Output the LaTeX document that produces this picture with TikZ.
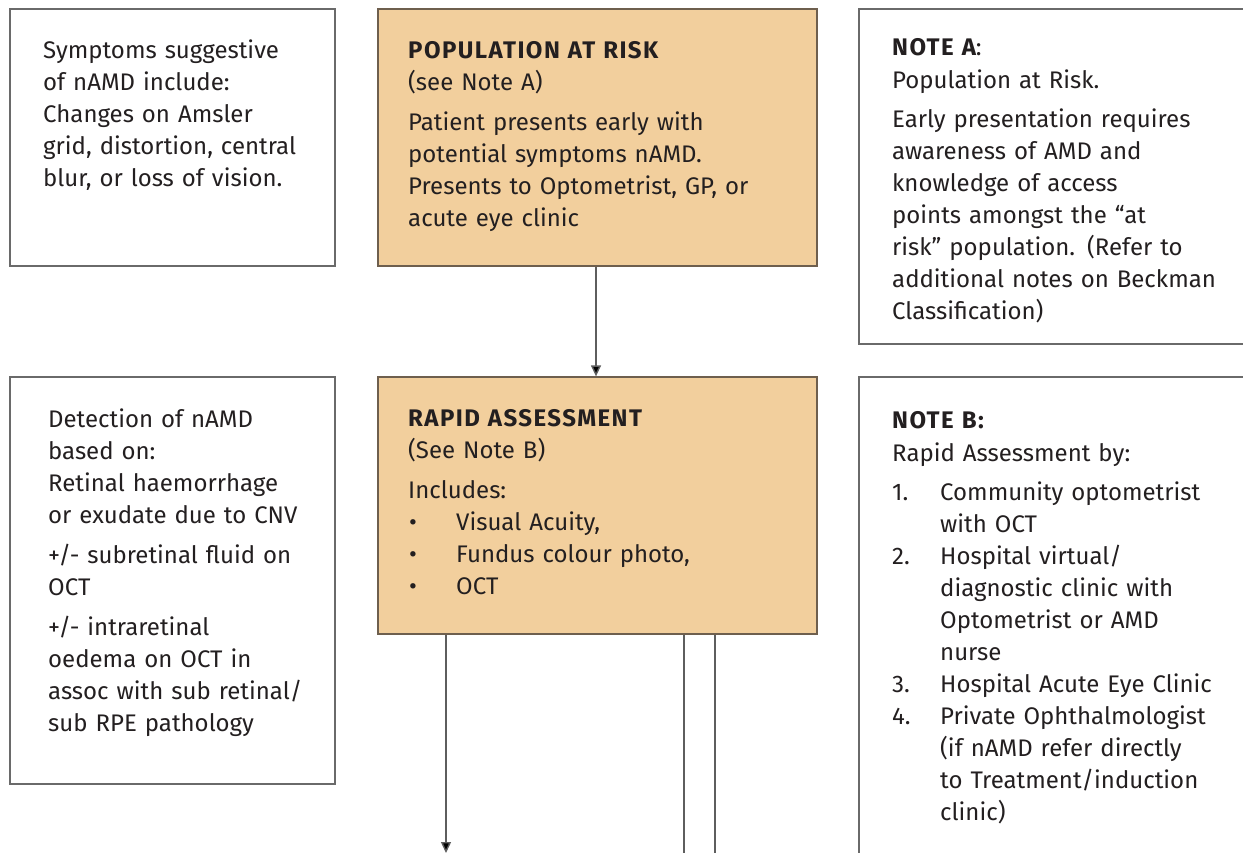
\documentclass[tikz,border=0pt]{standalone}
\usepackage{fontspec}
\setmainfont{Fira Sans}
\usetikzlibrary{arrows.meta}
\definecolor{boxfill}{HTML}{F2CF9D}
\definecolor{boxedge}{HTML}{6E5F4E}
\definecolor{grayedge}{HTML}{6A6A6A}
\definecolor{linegray}{HTML}{5E5E5E}
\definecolor{txt}{HTML}{231F20}
\tikzset{
  orangebox/.style={draw=boxedge, fill=boxfill, line width=1.3pt, rectangle, inner sep=0pt},
  whitebox/.style={draw=grayedge, fill=white, line width=1.2pt, rectangle, inner sep=0pt},
  txtblock/.style={anchor=base west, inner sep=0pt, text width=360pt, align=left, text=txt,
    font=\fontsize{24pt}{32pt}\selectfont},
  conn/.style={draw=linegray, line width=1.4pt},
  arr/.style={conn, -{Triangle[length=11pt, width=10pt, fill=black]}}
}
\newcommand{\itm}[1]{\makebox[48pt][l]{#1}}
\newcommand{\ind}{\hspace*{48pt}}
\newcommand{\bul}{\itm{\hspace*{1pt}•}}
\newcommand{\hd}[1]{{\bfseries\addfontfeature{LetterSpace=6}#1}}
\begin{document}
\begin{tikzpicture}[x=1pt, y=-1pt]
\clip (0,0) rectangle (1243,853);
\fill[white] (0,0) rectangle (1243,853);

% boxes
\node[whitebox, minimum width=325pt, minimum height=257pt] (symp) at (172.5,137.5) {};
\node[orangebox, minimum width=439pt, minimum height=257pt] (pop) at (597.5,137.5) {};
\node[whitebox, minimum width=400pt, minimum height=335pt] (notea) at (1059,176.5) {};
\node[whitebox, minimum width=325pt, minimum height=407pt] (detect) at (172.5,580.5) {};
\node[orangebox, minimum width=439pt, minimum height=257pt] (rapid) at (597.5,505.5) {};
\node[whitebox, minimum width=400pt, minimum height=500pt] (noteb) at (1059,627) {};

% texts
\node[txtblock] (sympt) at (43,58.5) {Symptoms suggestive\\of nAMD include:\\Changes on Amsler\\grid, distortion, central\\blur, or loss of vision.};

\node[txtblock] (popt) at (408,58.5) {\hd{POPULATION AT RISK}\\(see Note A)\\[8pt]Patient presents early with\\potential symptoms nAMD.\\Presents to Optometrist, GP, or\\acute eye clinic};

\node[txtblock] (noteat) at (892,55.5) {\hd{NOTE A}:\\[1pt]Population at Risk.\\[7pt]Early presentation requires\\awareness of AMD and\\knowledge of access\\points amongst the “at\\risk” population. (Refer to\\additional notes on Beckman\\Classification)};

\node[txtblock] (detectt) at (48,427.5) {Detection of nAMD\\based on:\\Retinal haemorrhage\\or exudate due to CNV\\[8pt]+/- subretinal fluid on\\OCT\\[8pt]+/- intraretinal\\oedema on OCT in\\assoc with sub retinal/\\sub RPE pathology};

\node[txtblock] (rapidt) at (408,426.5) {\hd{RAPID ASSESSMENT}\\(See Note B)\\[8pt]Includes:\\\bul Visual Acuity,\\\bul Fundus colour photo,\\\bul OCT};

\node[txtblock] (notebt) at (892,428.5) {\hd{NOTE B:}\\[1pt]Rapid Assessment by:\\[7pt]\itm{1.}Community optometrist\\\ind with OCT\\\itm{2.}Hospital virtual/\\\ind diagnostic clinic with\\\ind Optometrist or AMD\\\ind nurse\\\itm{3.}Hospital Acute Eye Clinic\\\itm{4.}Private Ophthalmologist\\\ind (if nAMD refer directly\\\ind to Treatment/induction\\\ind clinic)};

% connectors
\coordinate (outA) at (446,853);
\coordinate (outB) at (684,860);
\coordinate (outC) at (715,860);
\draw[arr] (pop.south -| 596,0) -- (rapid.north -| 596,0);
\draw[arr] (rapid.south -| outA) -- (outA);
\draw[conn] (rapid.south -| outB) -- (outB);
\draw[conn] (rapid.south -| outC) -- (outC);
\end{tikzpicture}
\end{document}
